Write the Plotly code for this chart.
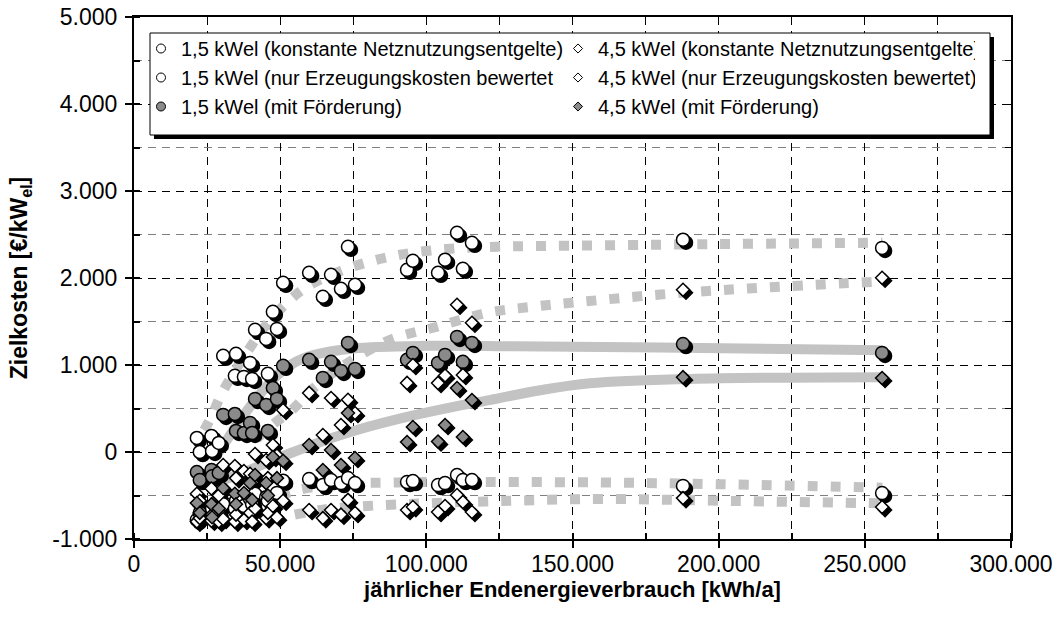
import plotly.graph_objects as go

# ---------------- data ----------------
consumption = [21500, 22500, 26500, 26700, 29000, 30500, 34500, 34900, 37600, 39700,
               40400, 41400, 45200, 45800, 47500, 48900, 51000, 59900, 64600, 67400,
               70800, 73200, 75600, 93400, 95400, 104000, 106400, 110500, 112500, 115600,
               187800, 255900]

k15 = [161, 0, 184, 12, 104, 1105, 875, 1128, 863, 1024,
       840, 1404, 1300, 898, 1611, 1415, 1945, 2060, 1784, 2037,
       1876, 2359, 1922, 2094, 2198, 2060, 2210, 2520, 2106, 2404,
       2440, 2346]
n15 = [-780, -700, -750, -650, -720, -600, -650, -560, -620, -540,
       -600, -480, -520, -560, -420, -470, -330, -311, -380, -322,
       -357, -300, -357, -345, -334, -380, -357, -265, -322, -322,
       -390, -472]
f15 = [-230, -322, -207, -280, -241, 426, 437, 242, 219, 334,
       219, 610, 541, 242, 736, 610, 990, 1059, 852, 1036,
       932, 1254, 955, 1059, 1139, 1024, 1116, 1323, 1036, 1254,
       1240, 1139]
k45 = [-480, -560, -420, -600, -500, -150, -161, -300, -219, -250,
       -350, -23, -92, -300, 80, -40, 483, 679, 196, 621,
       311, 600, 449, 794, 1000, 794, 880, 1692, 886, 1485,
       1865, 2003]
n45 = [-800, -760, -790, -720, -800, -770, -800, -720, -780, -700,
       -800, -650, -760, -700, -620, -750, -560, -667, -760, -667,
       -720, -550, -700, -667, -633, -690, -620, -495, -575, -690,
       -530, -633]
f45 = [-587, -700, -600, -750, -650, -414, -480, -600, -472, -357,
       -550, -265, -357, -500, -58, -300, -100, 80, -207, 23,
       -150, 449, -69, 115, 288, 120, 311, 736, 172, 598,
       860, 851]

# trend lines
tk15_x = [24000, 26700, 29400, 33000, 38700, 45000, 53400, 60200, 74900, 91000, 108100, 124500, 149200, 200000, 256000]
tk15_y = [250, 420, 630, 850, 1150, 1450, 1750, 1920, 2130, 2267, 2336, 2360, 2371, 2390, 2405]
tk45_x = [42000, 48000, 54000, 62000, 72000, 87600, 103700, 120800, 136500, 153300, 180000, 210000, 256000]
tk45_y = [150, 330, 483, 750, 1000, 1290, 1440, 1600, 1670, 1727, 1810, 1880, 1960]
tf15_x = [28000, 32000, 37000, 42000, 48000, 55000, 62000, 75000, 100000, 130000, 180000, 256000]
tf15_y = [-50, 150, 400, 620, 850, 1030, 1120, 1190, 1220, 1215, 1200, 1170]
tf45_x = [30000, 40000, 53000, 65000, 76000, 93000, 108000, 122000, 139000, 156000, 190000, 256000]
tf45_y = [-330, -200, -20, 130, 250, 400, 510, 600, 710, 790, 840, 860]
tn15_x = [50000, 57000, 70000, 90000, 120000, 160000, 200000, 256000]
tn15_y = [-500, -430, -370, -350, -345, -350, -370, -410]
tn45_x = [55000, 65000, 80000, 100000, 130000, 160000, 200000, 256000]
tn45_y = [-720, -660, -620, -590, -560, -540, -560, -590]

x_tickvals = [0, 50000, 100000, 150000, 200000, 250000, 300000]
x_ticktext = ["0", "50.000", "100.000", "150.000", "200.000", "250.000", "300.000"]
y_tickvals = [-1000, 0, 1000, 2000, 3000, 4000, 5000]
y_ticktext = ["-1.000", "0", "1.000", "2.000", "3.000", "4.000", "5.000"]

labels = ["1,5 kWel (konstante Netznutzungsentgelte)",
          "4,5 kWel (konstante Netznutzungsentgelte)",
          "1,5 kWel (nur Erzeugungskosten bewertet",
          "4,5 kWel (nur Erzeugungskosten bewertet)",
          "1,5 kWel (mit Förderung)",
          "4,5 kWel (mit Förderung)"]

# ---------------- layout geometry / style ----------------
W, H = 1060, 627
ML, MR, MT, MB = 134, 49, 17, 88
PW, PH = W - ML - MR, H - MT - MB
XR = [0, 300000]
YR = [-1000, 5000]
SHADOW = 3
dx = SHADOW * (XR[1] - XR[0]) / PW
dy = SHADOW * (YR[1] - YR[0]) / PH

FONT = "Liberation Sans, Arial, sans-serif"
GREY = "#8a8a8a"
TREND = "#c3c3c3"
DOT = "10px,13px"
GRIDDASH = "8px,6px"

fig = go.Figure()

# trend lines (base axes)
for tx, ty, dash in [(tk15_x, tk15_y, DOT), (tk45_x, tk45_y, DOT),
                     (tf15_x, tf15_y, "solid"), (tf45_x, tf45_y, "solid"),
                     (tn15_x, tn15_y, DOT), (tn45_x, tn45_y, DOT)]:
    fig.add_trace(go.Scatter(x=tx, y=ty, mode="lines",
                             line=dict(color=TREND, width=10, dash=dash, shape="spline"),
                             showlegend=False, hoverinfo="skip"))

series = [
    (labels[0], k15, "circle", "white"),
    (labels[1], k45, "diamond", "white"),
    (labels[2], n15, "circle", "white"),
    (labels[3], n45, "diamond", "white"),
    (labels[4], f15, "circle", GREY),
    (labels[5], f45, "diamond", GREY),
]
draw_order = [0, 2, 4, 1, 3, 5]

def msize(sym):
    return 13 if sym == "circle" else 10

# legend-only entries
for name, vals, sym, col in series:
    fig.add_trace(go.Scatter(x=[None], y=[None], mode="markers", name=name,
                             marker=dict(symbol=sym, size=9 if sym == "circle" else 7,
                                         color=col, line=dict(color="black", width=1))))

# shadows (shifted axes)
for i in draw_order:
    name, vals, sym, col = series[i]
    fig.add_trace(go.Scatter(x=consumption, y=vals, mode="markers", xaxis="x2", yaxis="y2",
                             marker=dict(symbol=sym, size=msize(sym), color="black",
                                         line=dict(color="black", width=1.5)),
                             showlegend=False, hoverinfo="skip"))
# markers
for i in draw_order:
    name, vals, sym, col = series[i]
    fig.add_trace(go.Scatter(x=consumption, y=vals, mode="markers", xaxis="x3", yaxis="y3",
                             marker=dict(symbol=sym, size=msize(sym), color=col,
                                         line=dict(color="black", width=1.5)),
                             showlegend=False, hoverinfo="skip"))

def px2paper_x(px):
    return (px - ML) / PW

def px2paper_y(py):
    return (H - MB - py) / PH

# legend box with shadow
box = (150, 33, 990, 135)
fig.add_shape(type="rect", xref="paper", yref="paper", layer="above",
              x0=px2paper_x(box[0] + 4), x1=px2paper_x(box[2] + 4),
              y0=px2paper_y(box[3] + 4), y1=px2paper_y(box[1] + 4),
              fillcolor="black", line=dict(width=0))
fig.add_shape(type="rect", xref="paper", yref="paper", layer="above",
              x0=px2paper_x(box[0]), x1=px2paper_x(box[2]),
              y0=px2paper_y(box[3]), y1=px2paper_y(box[1]),
              fillcolor="white", line=dict(color="black", width=1))

axis_common = dict(showline=True, linecolor="black", linewidth=2, mirror=True,
                   tickcolor="black", tickwidth=1.5, zeroline=False, automargin=False,
                   tickfont=dict(family=FONT, size=23, color="black"))

fig.update_layout(
    width=W, height=H,
    margin=dict(l=ML, r=MR, t=MT, b=MB, pad=0, autoexpand=False),
    paper_bgcolor="white", plot_bgcolor="white",
    font=dict(family=FONT, color="black"),
    xaxis=dict(range=XR, tickmode="array", tickvals=x_tickvals, ticktext=x_ticktext,
               ticks="outside", ticklen=7, showgrid=True, gridcolor="black",
               griddash=GRIDDASH, gridwidth=1, ticklabelstandoff=-4,
               minor=dict(tickmode="linear", tick0=0, dtick=25000, showgrid=True,
                          gridcolor="black", griddash=GRIDDASH, gridwidth=1,
                          ticks="inside", ticklen=6, tickcolor="black"),
               title=dict(text="<b>jährlicher Endenergieverbrauch [kWh/a]</b>",
                          font=dict(family=FONT, size=22, color="black"), standoff=4),
               **axis_common),
    yaxis=dict(range=YR, tickmode="array", tickvals=y_tickvals, ticktext=y_ticktext,
               ticks="outside", ticklen=7, showgrid=True, gridcolor="black",
               griddash=GRIDDASH, gridwidth=1, ticklabelstandoff=3,
               minor=dict(tickmode="linear", tick0=0, dtick=500, showgrid=True,
                          gridcolor="#7f7f7f", griddash=GRIDDASH, gridwidth=1,
                          ticks="inside", ticklen=6, tickcolor="black"),
               title=dict(text="<b>Zielkosten [€/kW<sub>el</sub>]</b>",
                          font=dict(family=FONT, size=23, color="black"), standoff=18),
               **axis_common),
    xaxis2=dict(overlaying="x", range=[XR[0] - dx, XR[1] - dx], visible=False, automargin=False),
    yaxis2=dict(overlaying="y", range=[YR[0] + dy, YR[1] + dy], visible=False, automargin=False),
    xaxis3=dict(overlaying="x", range=XR, side="top", showticklabels=False,
                ticks="inside", tickmode="linear", tick0=0, dtick=25000, ticklen=6,
                tickcolor="black", showgrid=False, zeroline=False, showline=False,
                automargin=False),
    yaxis3=dict(overlaying="y", range=YR, side="right", showticklabels=False,
                ticks="inside", tickmode="linear", tick0=0, dtick=500, ticklen=6,
                tickcolor="black", showgrid=False, zeroline=False, showline=False,
                automargin=False),
    legend=dict(orientation="h", x=px2paper_x(141), y=px2paper_y(29),
                xanchor="left", yanchor="top", bgcolor="rgba(0,0,0,0)", borderwidth=0,
                entrywidth=372, entrywidthmode="pixels", itemwidth=30,
                font=dict(family=FONT, size=20, color="black")),
    showlegend=True,
)

fig.write_html("out.html", config={"displayModeBar": False},
               post_script="document.body.style.margin='0';")
